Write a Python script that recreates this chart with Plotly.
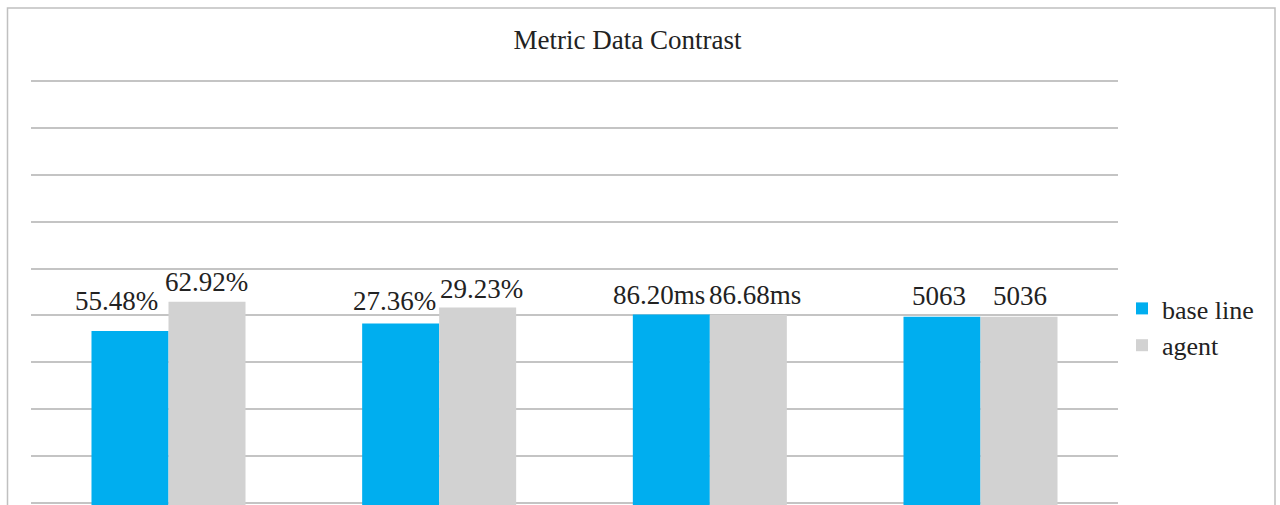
import plotly.graph_objects as go

# ---- data ----
categories = ["Metric 1", "Metric 2", "Metric 3", "Metric 4"]
series_names = ["base line", "agent"]
baseline_height = [46.7, 48.3, 50.2, 49.7]
agent_height = [52.9, 51.7, 50.1, 49.7]
baseline_labels = ["55.48%", "27.36%", "86.20ms", "5063"]
agent_labels = ["62.92%", "29.23%", "86.68ms", "5036"]

# ---- styling ----
W, H = 1280, 505
ML, MR, MT, MB = 31, 162, 79, 0
FONT = "Liberation Serif"
BLUE = "#00AEEF"
GRAY = "#D2D2D2"
GRID = "#C4C4C4"
TXT = "#222222"
BARGAP = 0.431
XPAD = 0.008  # category-axis padding so bars sit slightly inside the gridlines

# label fine offsets (px): horizontal shift from bar center and gap above bar
base_dx = [-13.5, -6.5, -12, -2.5]
agent_dx = [-1, 4, 7, 0.7]
base_gap = [20, 12.6, 9.3, 10.7]
agent_gap = [10, 8, 9.7, 10.7]

fig = go.Figure()
fig.add_trace(go.Bar(x=categories, y=baseline_height, name=series_names[0],
                     marker=dict(color=BLUE, line=dict(width=0))))
fig.add_trace(go.Bar(x=categories, y=agent_height, name=series_names[1],
                     marker=dict(color=GRAY, line=dict(width=0))))

plot_w = W - ML - MR
n = len(categories)
cat_px = plot_w / (n + 2 * XPAD)
bar_w = cat_px * (1 - BARGAP) / 2
DESC = 7
LBL = 27
annos = []
for i, c in enumerate(categories):
    annos.append(dict(x=c, y=baseline_height[i], text=baseline_labels[i], showarrow=False,
                      xanchor="center", yanchor="bottom",
                      xshift=-bar_w / 2 + base_dx[i], yshift=base_gap[i] - DESC,
                      font=dict(family=FONT, size=LBL, color=TXT)))
    annos.append(dict(x=c, y=agent_height[i], text=agent_labels[i], showarrow=False,
                      xanchor="center", yanchor="bottom",
                      xshift=bar_w / 2 + agent_dx[i], yshift=agent_gap[i] - DESC,
                      font=dict(family=FONT, size=LBL, color=TXT)))

ph = H - MT - MB
def px_to_paper_x(px):
    return (px - ML) / plot_w
def px_to_paper_y(py):
    return (H - MB - py) / ph

fig.update_layout(
    width=W, height=H,
    margin=dict(l=ML, r=MR, t=MT, b=MB, pad=0, autoexpand=False),
    paper_bgcolor="white", plot_bgcolor="white",
    font=dict(family=FONT, color=TXT),
    barmode="group", bargap=BARGAP, bargroupgap=0,
    title=dict(text="Metric Data Contrast", x=627.5 / W, xanchor="center",
               y=1 - 40 / H, yanchor="middle", yref="container",
               font=dict(family=FONT, size=27, color=TXT)),
    xaxis=dict(range=[-0.5 - XPAD, n - 0.5 + XPAD], showticklabels=False, showgrid=False,
               zeroline=False, showline=False, ticks=""),
    yaxis=dict(range=[10 - 2 / 4.69, 100 + 2 / 4.69], dtick=10, tick0=0,
               showticklabels=False, showgrid=True, gridcolor=GRID, gridwidth=1.5,
               zeroline=False, showline=False, ticks=""),
    legend=dict(x=px_to_paper_x(1122), y=px_to_paper_y(285), xanchor="left", yanchor="top",
                font=dict(family=FONT, size=26, color=TXT), bgcolor="rgba(0,0,0,0)",
                itemclick=False, tracegroupgap=0),
    annotations=annos,
    shapes=[dict(type="rect", xref="paper", yref="paper",
                 x0=px_to_paper_x(7.5), x1=px_to_paper_x(1275),
                 y0=px_to_paper_y(530), y1=px_to_paper_y(8),
                 line=dict(color="#C0C0C0", width=1.5), fillcolor="rgba(0,0,0,0)",
                 layer="above")],
    showlegend=True,
)

fig.write_html("out.html", config={"displayModeBar": False},
               post_script="document.body.style.margin='0px';")
